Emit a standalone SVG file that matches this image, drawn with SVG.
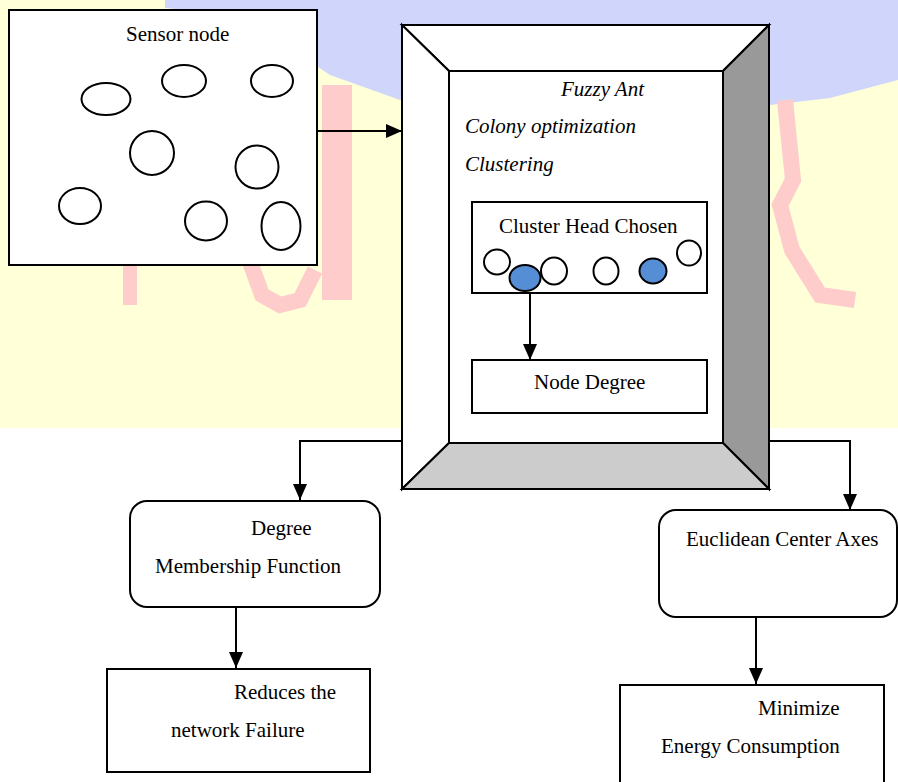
<svg xmlns="http://www.w3.org/2000/svg" width="898" height="782" viewBox="0 0 898 782">
<style>
.box{fill:#ffffff;stroke:#000;stroke-width:2}
.ell{fill:#ffffff;stroke:#000;stroke-width:2}
.blue{fill:#558ed5;stroke:#000;stroke-width:2}
.t{font-family:"Liberation Serif","Times New Roman",serif;font-size:21px;fill:#000}
.i{font-style:italic}
.con{fill:none;stroke:#000;stroke-width:2}
.bev{stroke:#000;stroke-width:2;stroke-linejoin:miter}
.wm{fill:none;stroke:#ffcccc;stroke-linejoin:miter}
</style>
<defs>
<marker id="arr" markerUnits="userSpaceOnUse" markerWidth="16" markerHeight="14" viewBox="0 0 16 14" refX="16" refY="7" orient="auto">
<path d="M0,0 L16,7 L0,14 z" fill="#000"/>
</marker>
</defs>
<rect width="898" height="782" fill="#ffffff"/>
<g id="watermark">
<rect x="0" y="0" width="898" height="428" fill="#ffffd8"/>
<polygon points="165,0 898,0 898,80 830,98 770,105 600,105 400,100 330,75 240,15 165,8" fill="#d0d6fb"/>
<path class="wm" stroke-width="30" d="M337,85 L337,300"/>
<path class="wm" stroke-width="14" d="M130,265 L130,305"/>
<path class="wm" stroke-width="16" d="M250,262 L262,295 L280,305 L300,300 L315,270"/>
<path class="wm" stroke-width="16" d="M785,100 L793,180 L780,205 L792,250 L820,295 L855,300"/>
</g>
<g id="sensor-node">
<rect class="box" x="9" y="10" width="308" height="255"/>
<text class="t" x="126" y="41">Sensor node</text>
<ellipse class="ell" cx="106" cy="99" rx="24.5" ry="16"/>
<ellipse class="ell" cx="184" cy="81" rx="22" ry="16"/>
<ellipse class="ell" cx="272" cy="81" rx="21" ry="16"/>
<ellipse class="ell" cx="152" cy="153" rx="22" ry="22"/>
<ellipse class="ell" cx="257" cy="167" rx="21.5" ry="21.5"/>
<ellipse class="ell" cx="80" cy="206" rx="21" ry="18"/>
<ellipse class="ell" cx="206" cy="221" rx="21" ry="19.5"/>
<ellipse class="ell" cx="281" cy="226" rx="19.5" ry="24"/>
</g>
<g id="fuzzy-ant-frame">
<polygon class="bev" points="402,25 769,25 723,71 449,71" fill="#ffffff"/>
<polygon class="bev" points="402,25 449,71 449,443 402,489" fill="#ffffff"/>
<polygon class="bev" points="769,25 769,489 723,443 723,71" fill="#999999"/>
<polygon class="bev" points="402,489 449,443 723,443 769,489" fill="#cccccc"/>
<rect class="box" x="449" y="71" width="274" height="372"/>
<text class="t i" x="561" y="96">Fuzzy Ant</text>
<text class="t i" x="465" y="133">Colony optimization</text>
<text class="t i" x="465" y="171">Clustering</text>
</g>
<g id="cluster-head">
<rect class="box" x="472" y="202" width="235" height="91"/>
<text class="t" x="499" y="233">Cluster Head Chosen</text>
<ellipse class="ell" cx="497" cy="262" rx="13" ry="12.5"/>
<ellipse class="ell" cx="554" cy="271" rx="13" ry="13.5"/>
<ellipse class="ell" cx="606" cy="271" rx="12.5" ry="13.5"/>
<ellipse class="ell" cx="689" cy="253" rx="12" ry="12.5"/>
<ellipse class="blue" cx="525" cy="278" rx="15.5" ry="13"/>
<ellipse class="blue" cx="653" cy="271" rx="13.5" ry="12.5"/>
</g>
<g id="node-degree">
<rect class="box" x="472" y="360" width="235" height="53"/>
<text class="t" x="534" y="389">Node Degree</text>
</g>
<g id="degree-membership">
<rect class="box" x="130" y="501" width="250" height="106" rx="17"/>
<text class="t" x="251" y="535">Degree</text>
<text class="t" x="155" y="573">Membership Function</text>
</g>
<g id="reduces-failure">
<rect class="box" x="107" y="669" width="263" height="103"/>
<text class="t" x="234" y="699">Reduces the</text>
<text class="t" x="171" y="737">network Failure</text>
</g>
<g id="euclidean">
<rect class="box" x="659" y="510" width="238" height="107" rx="17"/>
<text class="t" x="686" y="546">Euclidean Center Axes</text>
</g>
<g id="minimize-energy">
<rect class="box" x="620" y="685" width="264" height="110"/>
<text class="t" x="758" y="715">Minimize</text>
<text class="t" x="661" y="753">Energy Consumption</text>
</g>
<g id="connectors">
<path class="con" d="M317,131 H402" marker-end="url(#arr)"/>
<path class="con" d="M530,292 V360" marker-end="url(#arr)"/>
<path class="con" d="M402,441 H300 V500" marker-end="url(#arr)"/>
<path class="con" d="M769,441 H850 V510" marker-end="url(#arr)"/>
<path class="con" d="M236,607 V668" marker-end="url(#arr)"/>
<path class="con" d="M756,617 V684" marker-end="url(#arr)"/>
</g>
</svg>
